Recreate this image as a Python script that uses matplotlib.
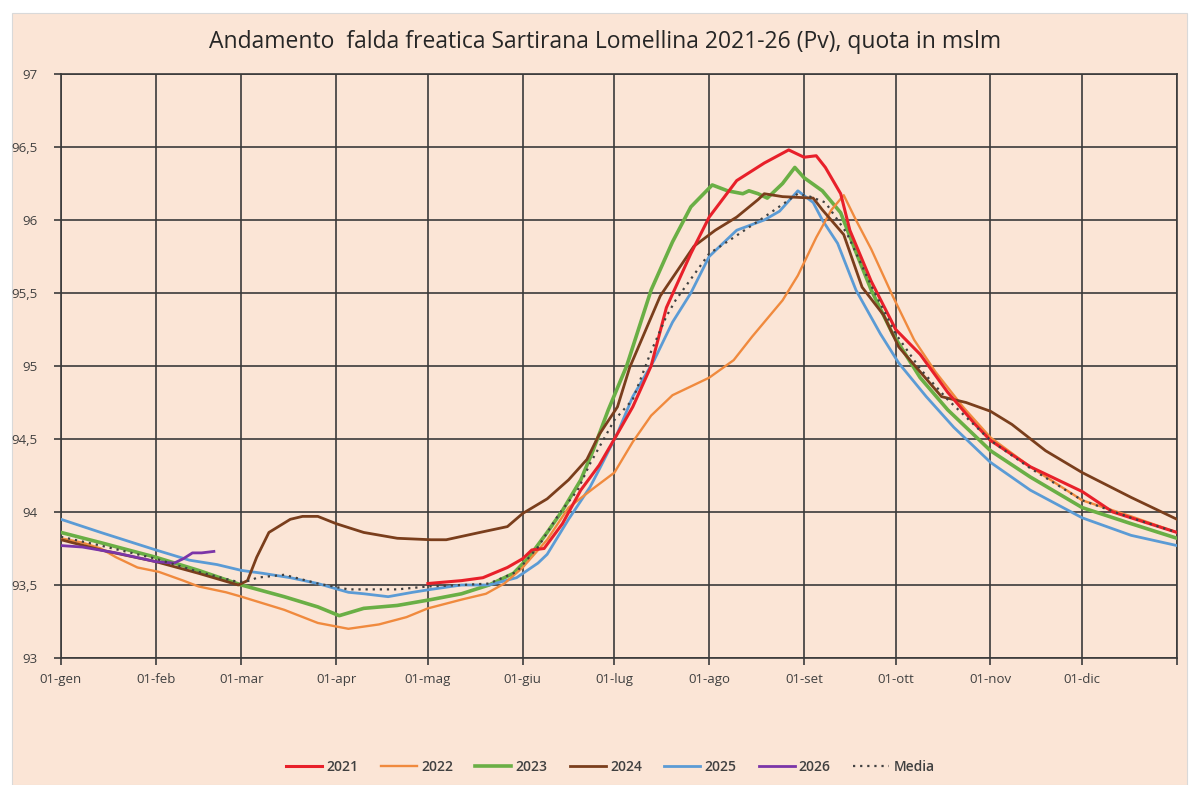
import matplotlib
matplotlib.use("Agg")
import matplotlib.pyplot as plt
from matplotlib.patches import Rectangle

plt.rcParams['font.family'] = ['Open Sans', 'DejaVu Sans']

month_days = [0, 31, 59, 90, 120, 151, 181, 212, 243, 273, 304, 334]
month_labels = ["01-gen", "01-feb", "01-mar", "01-apr", "01-mag", "01-giu",
                "01-lug", "01-ago", "01-set", "01-ott", "01-nov", "01-dic"]
y_ticks = [93, 93.5, 94, 94.5, 95, 95.5, 96, 96.5, 97]
y_labels = ["93", "93,5", "94", "94,5", "95", "95,5", "96", "96,5", "97"]

d2021 = [120, 131, 138, 146, 151, 154, 158, 164, 170, 176, 181, 187, 193, 198, 206, 212, 221, 230,
         238, 243, 247, 250, 255, 258, 265, 273, 281, 290, 299, 304, 317, 334, 344, 365]
v2021 = [93.51, 93.53, 93.55, 93.62, 93.68, 93.74, 93.75, 93.92, 94.15, 94.32, 94.5, 94.72, 95.0,
         95.4, 95.77, 96.02, 96.27, 96.39, 96.48, 96.43, 96.44, 96.36, 96.18, 95.93, 95.58, 95.25,
         95.08, 94.82, 94.6, 94.49, 94.31, 94.14, 94.0, 93.86]

d2022 = [0, 7, 13, 18, 25, 32, 40, 45, 54, 59, 73, 84, 94, 104, 113, 120, 131, 139, 145, 151, 159,
         166, 174, 181, 187, 193, 200, 212, 220, 226, 236, 241, 247, 252, 256, 260, 265, 272, 279,
         286, 295, 304, 317, 334, 350, 365]
v2022 = [93.82, 93.79, 93.75, 93.69, 93.62, 93.59, 93.53, 93.49, 93.45, 93.42, 93.33, 93.24, 93.2,
         93.23, 93.28, 93.34, 93.40, 93.44, 93.51, 93.62, 93.81, 94.03, 94.16, 94.27, 94.48, 94.66,
         94.8, 94.92, 95.04, 95.2, 95.45, 95.62, 95.88, 96.07, 96.17, 96.0, 95.8, 95.48, 95.18,
         94.96, 94.72, 94.51, 94.31, 94.08, 93.97, 93.86]

d2023 = [0, 13, 31, 45, 59, 73, 84, 91, 99, 110, 121, 131, 140, 148, 153, 159, 164, 170, 174, 179,
         185, 193, 200, 206, 213, 218, 223, 225, 228, 231, 236, 240, 243, 249, 255, 260, 265, 272,
         281, 290, 304, 317, 334, 350, 365]
v2023 = [93.86, 93.79, 93.69, 93.60, 93.50, 93.42, 93.35, 93.29, 93.34, 93.36, 93.40, 93.44, 93.50,
         93.58, 93.69, 93.86, 94.01, 94.22, 94.42, 94.7, 95.0, 95.52, 95.85, 96.09, 96.24, 96.2,
         96.18, 96.2, 96.18, 96.15, 96.25, 96.36, 96.29, 96.2, 96.05, 95.78, 95.52, 95.22, 94.92,
         94.70, 94.42, 94.24, 94.03, 93.92, 93.82]

d2024 = [0, 13, 31, 45, 58, 61, 64, 68, 75, 79, 84, 90, 99, 110, 121, 126, 137, 146, 151, 159, 166,
         172, 176, 182, 186, 196, 207, 214, 221, 228, 230, 236, 246, 249, 256, 262, 269, 274, 281,
         288, 296, 304, 311, 322, 334, 350, 365]
v2024 = [93.81, 93.74, 93.66, 93.58, 93.50, 93.53, 93.69, 93.86, 93.95, 93.97, 93.97, 93.92, 93.86,
         93.82, 93.81, 93.81, 93.86, 93.90, 93.99, 94.09, 94.22, 94.36, 94.53, 94.72, 94.99, 95.48,
         95.82, 95.93, 96.02, 96.14, 96.18, 96.16, 96.15, 96.07, 95.9, 95.54, 95.35, 95.13, 94.96,
         94.79, 94.75, 94.69, 94.60, 94.42, 94.27, 94.10, 93.95]

d2025 = [0, 13, 31, 42, 51, 59, 66, 75, 84, 94, 99, 107, 115, 121, 131, 140, 149, 156, 159, 166,
         173, 176, 182, 187, 194, 200, 206, 212, 221, 230, 235, 241, 246, 249, 254, 260, 268, 274,
         283, 292, 304, 317, 334, 350, 365]
v2025 = [93.95, 93.86, 93.74, 93.67, 93.64, 93.60, 93.58, 93.55, 93.51, 93.45, 93.44, 93.42, 93.45,
         93.47, 93.50, 93.50, 93.55, 93.65, 93.71, 93.95, 94.17, 94.29, 94.54, 94.79, 95.04, 95.3,
         95.5, 95.75, 95.93, 96.0, 96.06, 96.2, 96.12, 96.0, 95.84, 95.52, 95.22, 95.02, 94.79,
         94.58, 94.34, 94.15, 93.96, 93.84, 93.77]

d2026 = [0, 7, 18, 31, 37, 40, 43, 46, 50]
v2026 = [93.77, 93.76, 93.72, 93.66, 93.65, 93.68, 93.72, 93.72, 93.73]

dmedia = [0, 13, 31, 45, 58, 62, 64, 73, 84, 94, 99, 110, 120, 131, 140, 149, 156, 163, 169, 173,
          181, 187, 193, 198, 201, 212, 220, 230, 241, 245, 250, 257, 265, 273, 281, 290, 304, 317,
          334, 350, 365]
vmedia = [93.83, 93.77, 93.68, 93.59, 93.52, 93.53, 93.55, 93.57, 93.51, 93.47, 93.47, 93.47, 93.49,
          93.50, 93.51, 93.59, 93.76, 93.99, 94.15, 94.33, 94.63, 94.77, 95.1, 95.34, 95.45, 95.77,
          95.88, 96.02, 96.18, 96.16, 96.12, 95.91, 95.55, 95.22, 94.98, 94.77, 94.49, 94.3, 94.08,
          93.96, 93.86]

bg = "#FBE5D6"
txt = "#404040"
W, H = 1192, 785
fig = plt.figure(figsize=(W / 100, H / 100), dpi=100, facecolor="white")
fig.patches.append(Rectangle((12 / W, 0), (1187 - 12) / W, 1 - 13 / H,
                             transform=fig.transFigure, facecolor=bg, edgecolor="#d9d9d9",
                             lw=0.8, zorder=-10))
ax = fig.add_axes([61 / W, 1 - 658 / H, (1177 - 61) / W, (658 - 74) / H])
ax.set_facecolor(bg)
ax.set_zorder(2)

ax.plot(d2021, v2021, color="#E8202A", lw=2.2, label="2021", zorder=5)
ax.plot(d2022, v2022, color="#F08A3E", lw=1.7, label="2022", zorder=4)
ax.plot(d2023, v2023, color="#6AAF45", lw=2.6, label="2023", zorder=3)
ax.plot(d2024, v2024, color="#7A3E1C", lw=2.0, label="2024", zorder=4)
ax.plot(d2025, v2025, color="#5B9BD5", lw=2.0, label="2025", zorder=3)
ax.plot(d2026, v2026, color="#7B35A8", lw=2.0, label="2026", zorder=5)
ax.plot(dmedia, vmedia, color="#404040", lw=1.6, ls=(0, (1, 2.2)), label="Media", zorder=6)

ax.set_xlim(0, 365)
ax.set_ylim(93, 97)
ax.set_xticks(month_days + [365])
ax.set_xticklabels(month_labels + [""])
ax.set_yticks(y_ticks)
ax.set_yticklabels(y_labels)
ax.grid(True, color="#3a3a3a", lw=1.2, zorder=1)
ax.set_axisbelow(True)
for s in ax.spines.values():
    s.set_color("#3a3a3a")
    s.set_linewidth(1.2)
ax.tick_params(axis="both", colors="#3a3a3a", length=5, width=1.2, labelsize=9.5,
               labelcolor=txt)
ax.tick_params(axis="x", pad=6)
ax.tick_params(axis="y", pad=12)

fig.text(0.508, 1 - 42 / H, "Andamento  falda freatica Sartirana Lomellina 2021-26 (Pv), quota in mslm",
         ha="center", va="center", fontsize=16.5, color="#262626")

fig.legend(loc="center", bbox_to_anchor=(0.512, 1 - 767 / H), ncol=7, frameon=False,
           handlelength=2.6, columnspacing=1.6, handletextpad=0.3,
           labelcolor=txt, prop={"weight": "semibold", "size": 10})

fig.savefig("out.png", dpi=100, facecolor="white")
